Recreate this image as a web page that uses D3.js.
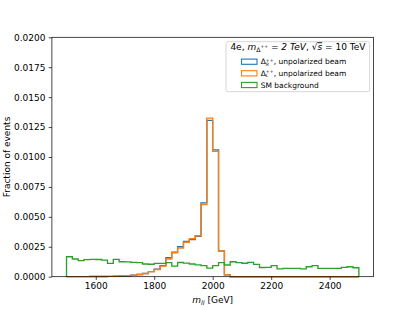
<!DOCTYPE html>
<html>
<head>
    <title>Mass histogram</title>
    <script src="https://cdnjs.cloudflare.com/ajax/libs/d3/7.8.5/d3.min.js"></script>
    <style>
        html, body {
            margin: 0;
            padding: 0;
            background: white;
        }
        svg text {
            font-family: 'DejaVu Sans', sans-serif;
        }
    </style>
</head>
<body>
    <svg id="chart" width="415" height="311"></svg>
    <script>
        // bins: 20 GeV wide, 1500 -> 2500
        const binStart = 1500;
        const binWidth = 20;

        const deltaR = [
            0.00001, 0.00001, 0.00001, 0.00001, 0.00002, 0.00002, 0.00002, 0.00003, 0.00004, 0.00006,
            0.00008, 0.00012, 0.00018, 0.00027, 0.00043, 0.00062, 0.00092, 0.00158, 0.00205, 0.0025,
            0.00295, 0.0031, 0.00338, 0.00617, 0.01306, 0.0106, 0.00215, 0.00015, 0, 0,
            0, 0, 0, 0, 0, 0, 0, 0, 0, 0,
            0, 0, 0, 0, 0, 0, 0, 0, 0, 0
        ];
        const deltaL = [
            0.00001, 0.00001, 0.00001, 0.00001, 0.00002, 0.00002, 0.00002, 0.00003, 0.00004, 0.00006,
            0.00008, 0.00012, 0.00018, 0.00027, 0.00042, 0.0006, 0.00088, 0.00148, 0.002, 0.0024,
            0.00288, 0.00318, 0.00342, 0.00603, 0.01325, 0.01048, 0.00215, 0.00015, 0, 0,
            0, 0, 0, 0, 0, 0, 0, 0, 0, 0,
            0, 0, 0, 0, 0, 0, 0, 0, 0, 0
        ];
        const smBackground = [
            0.00167, 0.00148, 0.00134, 0.00143, 0.00145, 0.00144, 0.00138, 0.00111, 0.00145, 0.00125,
            0.00124, 0.0012, 0.00118, 0.00106, 0.00104, 0.00111, 0.00111, 0.00118, 0.00088, 0.00119,
            0.00114, 0.00106, 0.00099, 0.00092, 0.00072, 0.00092, 0.00118, 0.00098, 0.00125, 0.00118,
            0.00112, 0.0012, 0.00103, 0.00077, 0.00078, 0.00092, 0.00066, 0.0007, 0.0007, 0.0007,
            0.00066, 0.00083, 0.00092, 0.0007, 0.0007, 0.0007, 0.0007, 0.00078, 0.00083, 0.00075
        ];

        const xTicks = [1600, 1800, 2000, 2200, 2400];
        const yTicks = [0, 0.0025, 0.005, 0.0075, 0.01, 0.0125, 0.015, 0.0175, 0.02];

        const series = [
            { values: deltaR, color: "#1f77b4", sub: "R" },
            { values: deltaL, color: "#ff7f0e", sub: "L" },
            { values: smBackground, color: "#2ca02c", sub: null }
        ];

        const plot = { left: 51.9, right: 373.5, top: 37.3, bottom: 276.7 };

        const svg = d3.select("#chart");

        const x = d3.scaleLinear().domain([1450, 2550]).range([plot.left, plot.right]);
        const y = d3.scaleLinear().domain([0, 0.02]).range([plot.bottom, plot.top]);

        // histogram step outlines
        const line = d3.line().x(d => d[0]).y(d => d[1]);
        series.forEach(s => {
            const pts = [[x(binStart), y(0)]];
            s.values.forEach((v, i) => {
                pts.push([x(binStart + i * binWidth), y(v)]);
                pts.push([x(binStart + (i + 1) * binWidth), y(v)]);
            });
            pts.push([x(binStart + s.values.length * binWidth), y(0)]);
            svg.append("path")
                .attr("d", line(pts))
                .attr("fill", "none")
                .attr("stroke", s.color)
                .attr("stroke-width", 1.35)
                .attr("stroke-linejoin", "miter");
        });

        // axes
        const xAxis = svg.append("g")
            .attr("transform", `translate(0,${plot.bottom})`)
            .call(d3.axisBottom(x).tickValues(xTicks).tickSize(3.2).tickPadding(3.2).tickFormat(d3.format("d")));
        const yAxis = svg.append("g")
            .attr("transform", `translate(${plot.left},0)`)
            .call(d3.axisLeft(y).tickValues(yTicks).tickSize(3.2).tickPadding(3.2).tickFormat(d3.format(".4f")));
        [xAxis, yAxis].forEach(g => {
            g.select(".domain").remove();
            g.selectAll("line").attr("stroke", "#000").attr("stroke-width", 0.72);
            g.selectAll("text").attr("font-size", 9).attr("fill", "#000")
                .style("font-family", "'DejaVu Sans', sans-serif");
        });

        svg.append("rect")
            .attr("x", plot.left).attr("y", plot.top)
            .attr("width", plot.right - plot.left).attr("height", plot.bottom - plot.top)
            .attr("fill", "none").attr("stroke", "#000").attr("stroke-width", 0.72);

        // axis labels
        const xl = svg.append("text")
            .attr("x", (plot.left + plot.right) / 2).attr("y", 302.5)
            .attr("text-anchor", "middle").attr("font-size", 9);
        xl.append("tspan").attr("font-style", "italic").text("m");
        xl.append("tspan").attr("font-style", "italic").attr("font-size", 6.3).attr("dy", 2).text("ll");
        xl.append("tspan").attr("dy", -2).text(" [GeV]");

        svg.append("text")
            .attr("transform", `translate(10,${(plot.top + plot.bottom) / 2}) rotate(-90)`)
            .attr("text-anchor", "middle").attr("font-size", 9)
            .text("Fraction of events");

        // legend
        const lg = svg.append("g");
        lg.append("rect")
            .attr("x", 226).attr("y", 41.7).attr("width", 143.7).attr("height", 50)
            .attr("rx", 2).attr("fill", "white").attr("fill-opacity", 0.8)
            .attr("stroke", "#cccccc").attr("stroke-width", 0.8);

        const title = lg.append("text").attr("x", 297.9).attr("y", 50.3)
            .attr("text-anchor", "middle").attr("font-size", 9);
        title.append("tspan").text("4e, ");
        title.append("tspan").attr("font-style", "italic").text("m");
        title.append("tspan").attr("font-size", 6.3).attr("dy", 2).text("Δ");
        title.append("tspan").attr("font-size", 4.5).attr("dy", -4).text("++");
        title.append("tspan").attr("dy", 2).text(" = ");
        title.append("tspan").attr("font-style", "italic").text("2 TeV");
        title.append("tspan").text(", √");
        title.append("tspan").attr("font-style", "italic").attr("text-decoration", "overline").text("s");
        title.append("tspan").text(" = 10 TeV");

        const rows = [61.7, 73.3, 85];
        series.forEach((s, i) => {
            const ry = rows[i];
            lg.append("rect")
                .attr("x", 241.5).attr("y", ry - 2.6).attr("width", 15.5).attr("height", 5.2)
                .attr("fill", "none").attr("stroke", s.color).attr("stroke-width", 1.1);
            if (s.sub) {
                lg.append("text").attr("x", 260.7).attr("y", ry + 2.7).attr("font-size", 7.5).text("Δ");
                lg.append("text").attr("x", 265.8).attr("y", ry - 0.2).attr("font-size", 4.6).text("++");
                lg.append("text").attr("x", 265.8).attr("y", ry + 4).attr("font-size", 4.6)
                    .attr("font-style", "italic").text(s.sub);
                lg.append("text").attr("x", 273.8).attr("y", ry + 2.7).attr("font-size", 7.5)
                    .text(", unpolarized beam");
            } else {
                lg.append("text").attr("x", 260.7).attr("y", ry + 2.7).attr("font-size", 7.5)
                    .text("SM background");
            }
        });
    </script>
</body>
</html>
